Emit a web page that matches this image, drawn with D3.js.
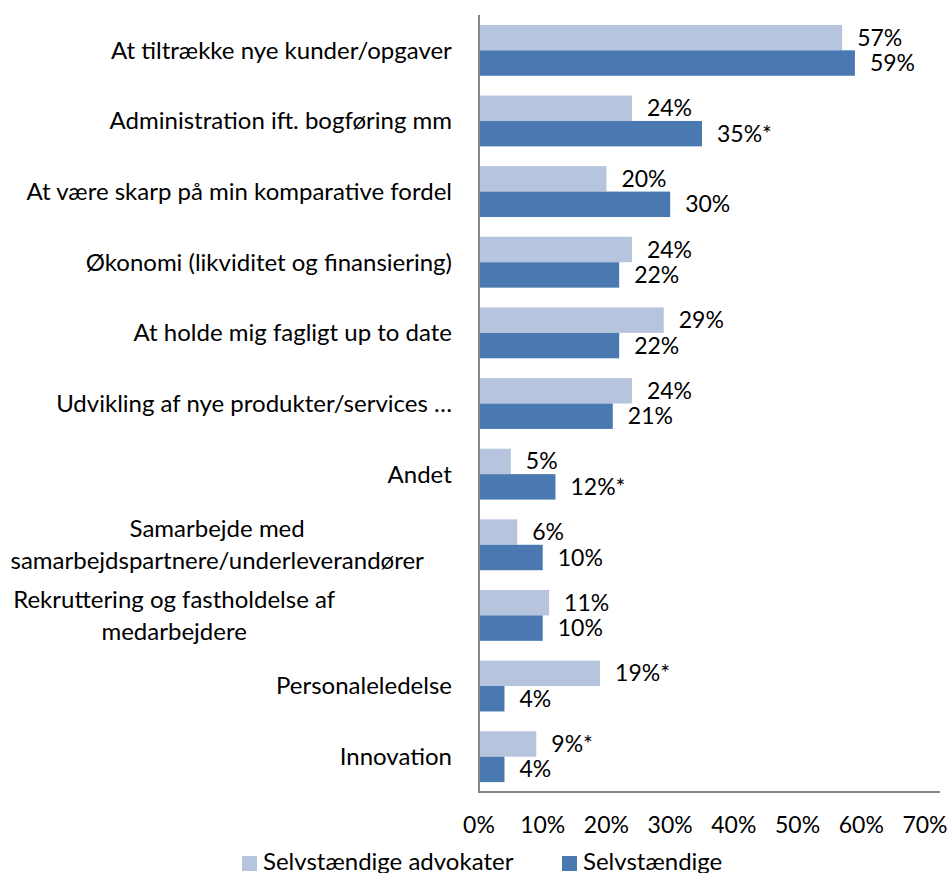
<!DOCTYPE html>
<html>
<head>
<meta charset="utf-8">
<script src="https://cdn.jsdelivr.net/npm/d3@7"></script>
<style>
  body { margin: 0; background: #fff; }
  text { font-family: Lato, "Open Sans", sans-serif; fill: #000; }
</style>
</head>
<body>
<svg width="952" height="873"></svg>
<script>
// data
let categories = [
    "At tiltrække nye kunder/opgaver",
    "Administration ift. bogføring mm",
    "At være skarp på min komparative fordel",
    "Økonomi (likviditet og finansiering)",
    "At holde mig fagligt up to date",
    "Udvikling af nye produkter/services …",
    "Andet",
    "Samarbejde med\nsamarbejdspartnere/underleverandører",
    "Rekruttering og fastholdelse af\nmedarbejdere",
    "Personaleledelse",
    "Innovation"
];
let advokater = [57, 24, 20, 24, 29, 24, 5, 6, 11, 19, 9];
let advokaterMark = ["", "", "", "", "", "", "", "", "", "*", "*"];
let selvstaendige = [59, 35, 30, 22, 22, 21, 12, 10, 10, 4, 4];
let selvstaendigeMark = ["", "*", "", "", "", "", "*", "", "", "", ""];
let ticks = [0, 10, 20, 30, 40, 50, 60, 70];
let seriesNames = ["Selvstændige advokater", "Selvstændige"];
let colors = ["#b7c4de", "#4a79b1"];

let plotLeft = 479, plotRight = 925, plotTop = 15, plotBottom = 792;
let labelSize = 24, valueSize = 23;

var svg = d3.select('svg');

var x = d3.scaleLinear().domain([0, 70]).range([plotLeft, plotRight]);
var y = d3.scaleBand().domain(categories).range([plotTop, plotBottom])
    .paddingInner(0.28).paddingOuter(0.14);
var sub = d3.scaleBand().domain([0, 1]).range([0, y.bandwidth()]);

var rows = categories.map((c, i) => ({
    cat: c,
    vals: [
        {s: 0, v: advokater[i], m: advokaterMark[i]},
        {s: 1, v: selvstaendige[i], m: selvstaendigeMark[i]}
    ]
}));

var groups = svg.selectAll('g.row')
    .data(rows)
    .enter()
    .append('g')
    .attr('class', 'row')
    .attr('transform', d => `translate(0, ${y(d.cat)})`);

groups.selectAll('rect')
    .data(d => d.vals)
    .enter()
    .append('rect')
    .attr('x', x(0))
    .attr('y', d => sub(d.s))
    .attr('width', d => x(d.v) - x(0))
    .attr('height', sub.bandwidth())
    .attr('fill', d => colors[d.s]);

groups.selectAll('text.val')
    .data(d => d.vals)
    .enter()
    .append('text')
    .attr('class', 'val')
    .attr('x', d => x(d.v) + 15)
    .attr('y', d => sub(d.s) + sub.bandwidth() / 2)
    .attr('dy', '0.35em')
    .style('font-size', valueSize + 'px')
    .text(d => d.v + '%' + d.m);

// category labels, multi-line ones centred as a block that is right aligned
var labelRight = 452, maxLine = 442;
groups.each(function(d) {
    var g = d3.select(this);
    var lines = d.cat.split('\n');
    var lh = 32;
    var cy = y.bandwidth() / 2;
    var t = g.append('text')
        .style('font-size', labelSize + 'px')
        .attr('text-anchor', 'middle');
    lines.forEach((l, i) => {
        var sp = t.append('tspan')
            .attr('y', cy + (i - (lines.length - 1) / 2) * lh)
            .attr('dy', '0.35em')
            .text(l);
        if (sp.node().getComputedTextLength() > maxLine) {
            sp.attr('textLength', maxLine).attr('lengthAdjust', 'spacingAndGlyphs');
        }
    });
    var w = t.node().getBBox().width;
    t.selectAll('tspan').attr('x', labelRight - w / 2);
});

// axes
svg.append('line')
    .attr('x1', plotLeft).attr('x2', plotLeft)
    .attr('y1', plotTop).attr('y2', plotBottom)
    .attr('stroke', '#868686').attr('stroke-width', 2);
svg.append('line')
    .attr('x1', plotLeft - 1).attr('x2', plotRight + 15)
    .attr('y1', plotBottom).attr('y2', plotBottom)
    .attr('stroke', '#868686').attr('stroke-width', 2);

svg.selectAll('text.tick')
    .data(ticks)
    .enter()
    .append('text')
    .attr('class', 'tick')
    .attr('x', d => x(d))
    .attr('y', 825)
    .attr('dy', '0.35em')
    .attr('text-anchor', 'middle')
    .style('font-size', valueSize + 'px')
    .text(d => d + '%');

// legend
var legendX = [242, 562];
var legend = svg.selectAll('g.legend')
    .data(seriesNames)
    .enter()
    .append('g')
    .attr('class', 'legend')
    .attr('transform', (d, i) => `translate(${legendX[i]}, 856)`);
legend.append('rect')
    .attr('width', 15).attr('height', 15)
    .attr('fill', (d, i) => colors[i]);
legend.append('text')
    .attr('x', 21)
    .attr('y', 6)
    .attr('dy', '0.35em')
    .style('font-size', labelSize + 'px')
    .text(d => d);
</script>
</body>
</html>
